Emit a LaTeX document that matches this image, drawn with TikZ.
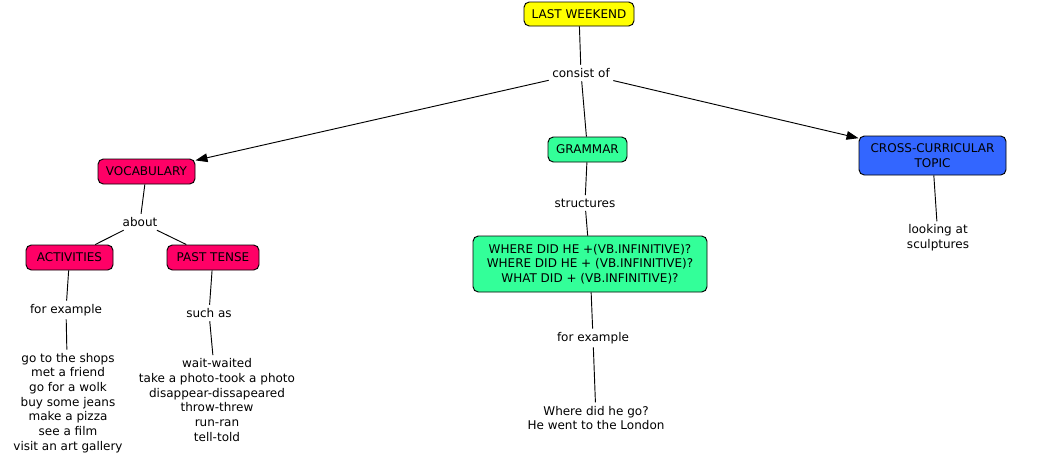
\documentclass[tikz,border=0pt]{standalone}
\usepackage{fontspec}
\setmainfont{DejaVu Sans}
\usetikzlibrary{arrows.meta}
\definecolor{cyellow}{RGB}{255,255,0}
\definecolor{cpink}{RGB}{255,0,102}
\definecolor{cgreen}{RGB}{51,255,153}
\definecolor{cblue}{RGB}{51,102,255}
\begin{document}
\begin{tikzpicture}[x=0.75pt,y=-0.75pt,
  font=\fontsize{9}{11}\selectfont,
  concept/.style={draw=black, rounded corners=4pt, align=center, inner sep=0pt, line width=0.7pt},
  lbl/.style={align=center, inner sep=2.5pt},
  link/.style={draw=black, line width=0.7pt},
  arr/.style={link, -{Triangle[length=9pt,width=6.5pt]}}]
\useasboundingbox (0,0) rectangle (1050,464);
\node[concept, fill=cyellow, minimum width=82.5pt, minimum height=18pt] (lw) at (579,14) {LAST WEEKEND};
\node[lbl] (cons) at (581,73) {consist of};
\node[concept, fill=cpink, minimum width=72.75pt, minimum height=18.75pt] (voc) at (146.5,171.5) {VOCABULARY};
\node[concept, fill=cgreen, minimum width=59.25pt, minimum height=18.75pt] (gram) at (587.5,149.5) {GRAMMAR};
\node[concept, fill=cblue, minimum width=110.25pt, minimum height=29.25pt] (cross) at (932.5,155.5) {CROSS-CURRICULAR\\TOPIC};
\node[lbl] (about) at (140,222) {about};
\node[concept, fill=cpink, minimum width=65.25pt, minimum height=18.75pt] (act) at (69.5,257.5) {ACTIVITIES};
\node[concept, fill=cpink, minimum width=69pt, minimum height=18.75pt] (past) at (213,257.5) {PAST TENSE};
\node[lbl] (fe1) at (66,310) {for example};
\node[lbl] (such) at (209,313) {such as};
\node[lbl] (list1) at (68,403) {go to the shops\\met a friend\\go for a wolk\\buy some jeans\\make a pizza\\see a film\\visit an art gallery};
\node[lbl] (list2) at (217,400) {wait-waited\\take a photo-took a photo\\disappear-dissapeared\\throw-threw\\run-ran\\tell-told};
\node[lbl] (struct) at (585,203) {structures};
\node[concept, fill=cgreen, minimum width=175.5pt, minimum height=42pt] (where) at (590,264) {WHERE DID HE +(VB.INFINITIVE)?\\WHERE DID HE + (VB.INFINITIVE)?\\WHAT DID + (VB.INFINITIVE)?};
\node[lbl] (fe2) at (593,338) {for example};
\node[lbl] (ex) at (596,418) {Where did he go?\\He went to the London};
\node[lbl] (look) at (938,238) {looking at\\sculptures};
\draw[link] (lw) -- (cons);
\draw[arr] (cons) -- (voc);
\draw[link] (cons) -- (gram);
\draw[arr] (cons) -- (cross);
\draw[link] (voc) -- (about);
\draw[link] (about) -- (act);
\draw[link] (about) -- (past);
\draw[link] (act) -- (fe1);
\draw[link] (fe1) -- (list1);
\draw[link] (past) -- (such);
\draw[link] (such) -- (list2);
\draw[link] (gram) -- (struct);
\draw[link] (struct) -- (where);
\draw[link] (where) -- (fe2);
\draw[link] (fe2) -- (ex);
\draw[link] (cross) -- (look);
\end{tikzpicture}
\end{document}
